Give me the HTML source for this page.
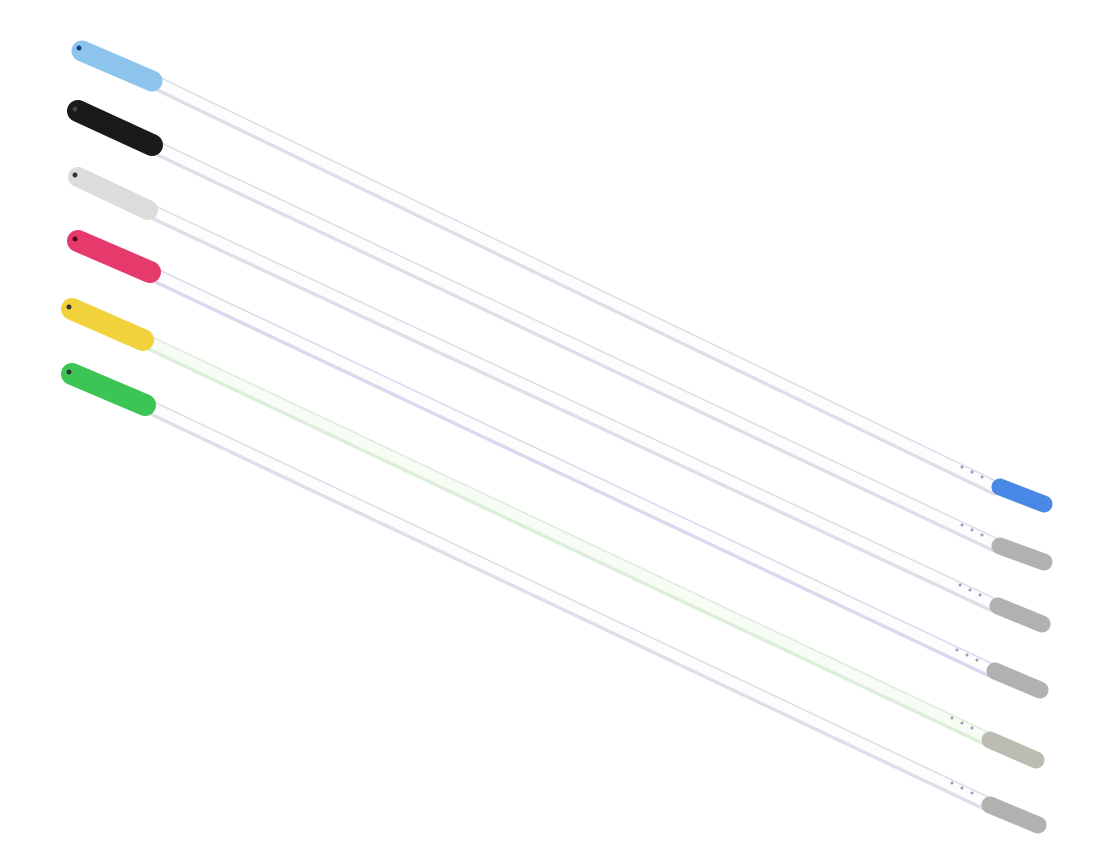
<!DOCTYPE html>
<html><head><meta charset="utf-8"><style>
html,body{margin:0;padding:0;background:#fff;}
svg{display:block;}
</style></head><body>
<svg width="1117" height="855" viewBox="0 0 1117 855" xmlns="http://www.w3.org/2000/svg">
<g stroke-linecap="round">
<!-- 1 blue -->
<line x1="150" y1="80" x2="995" y2="488" stroke="#dde0ea" stroke-width="15"/>
<line x1="150" y1="79" x2="995" y2="487" stroke="#fdfdfe" stroke-width="10"/>
<line x1="1000" y1="487" x2="1044" y2="504" stroke="#4a88e6" stroke-width="17"/>
<line x1="82" y1="51" x2="152" y2="81" stroke="#8cc4ec" stroke-width="21"/>
<!-- 2 black -->
<line x1="150" y1="145" x2="995" y2="545" stroke="#dde0ea" stroke-width="15"/>
<line x1="150" y1="144" x2="995" y2="544" stroke="#fdfdfe" stroke-width="10"/>
<line x1="1000" y1="546" x2="1044" y2="562" stroke="#b0b2b0" stroke-width="17"/>
<line x1="78" y1="111" x2="152" y2="145" stroke="#1a1a1a" stroke-width="22"/>
<!-- 3 white -->
<line x1="148" y1="210" x2="993" y2="605" stroke="#dde0ea" stroke-width="15"/>
<line x1="148" y1="209" x2="993" y2="604" stroke="#fdfdfe" stroke-width="10"/>
<line x1="998" y1="606" x2="1042" y2="624" stroke="#b0b2b0" stroke-width="17"/>
<line x1="78" y1="177" x2="148" y2="210" stroke="#dcdcda" stroke-width="20"/>
<!-- 4 pink -->
<line x1="150" y1="273" x2="990" y2="670" stroke="#dadaee" stroke-width="15"/>
<line x1="150" y1="272" x2="990" y2="669" stroke="#fdfdfe" stroke-width="10"/>
<line x1="995" y1="671" x2="1040" y2="690" stroke="#b0b2b0" stroke-width="17"/>
<line x1="78" y1="241" x2="150" y2="272" stroke="#e63a6c" stroke-width="22"/>
<!-- 5 yellow -->
<line x1="143" y1="340" x2="985" y2="738" stroke="#dcefda" stroke-width="15"/>
<line x1="143" y1="339" x2="985" y2="737" stroke="#f7fcf5" stroke-width="10"/>
<line x1="990" y1="740" x2="1036" y2="760" stroke="#bcbcb2" stroke-width="17"/>
<line x1="72" y1="309" x2="143" y2="340" stroke="#f2d23c" stroke-width="22"/>
<!-- 6 green -->
<line x1="145" y1="405" x2="985" y2="803" stroke="#dde0ea" stroke-width="15"/>
<line x1="145" y1="404" x2="985" y2="802" stroke="#fdfdfe" stroke-width="10"/>
<line x1="990" y1="805" x2="1038" y2="825" stroke="#b0b2b0" stroke-width="17"/>
<line x1="72" y1="374" x2="145" y2="405" stroke="#3cc454" stroke-width="22"/>
</g>
<g>
<circle cx="79" cy="48" r="2.5" fill="#1a3a8a"/><circle cx="75" cy="109" r="2.5" fill="#444"/><circle cx="75" cy="175" r="2.5" fill="#333"/>
<circle cx="75" cy="239" r="2.5" fill="#4a0a1a"/><circle cx="69" cy="307" r="2.5" fill="#333"/><circle cx="69" cy="372" r="2.5" fill="#333"/>
</g>
<g fill="#9a9ec0">
<circle cx="962" cy="467" r="1.5"/><circle cx="972" cy="472" r="1.5"/><circle cx="982" cy="477" r="1.5"/>
<circle cx="962" cy="525" r="1.5"/><circle cx="972" cy="530" r="1.5"/><circle cx="982" cy="535" r="1.5"/>
<circle cx="960" cy="585" r="1.5"/><circle cx="970" cy="590" r="1.5"/><circle cx="980" cy="595" r="1.5"/>
<circle cx="957" cy="650" r="1.5"/><circle cx="967" cy="655" r="1.5"/><circle cx="977" cy="660" r="1.5"/>
<circle cx="952" cy="718" r="1.5"/><circle cx="962" cy="723" r="1.5"/><circle cx="972" cy="728" r="1.5"/>
<circle cx="952" cy="783" r="1.5"/><circle cx="962" cy="788" r="1.5"/><circle cx="972" cy="793" r="1.5"/>
</g>
</svg>
</body></html>
